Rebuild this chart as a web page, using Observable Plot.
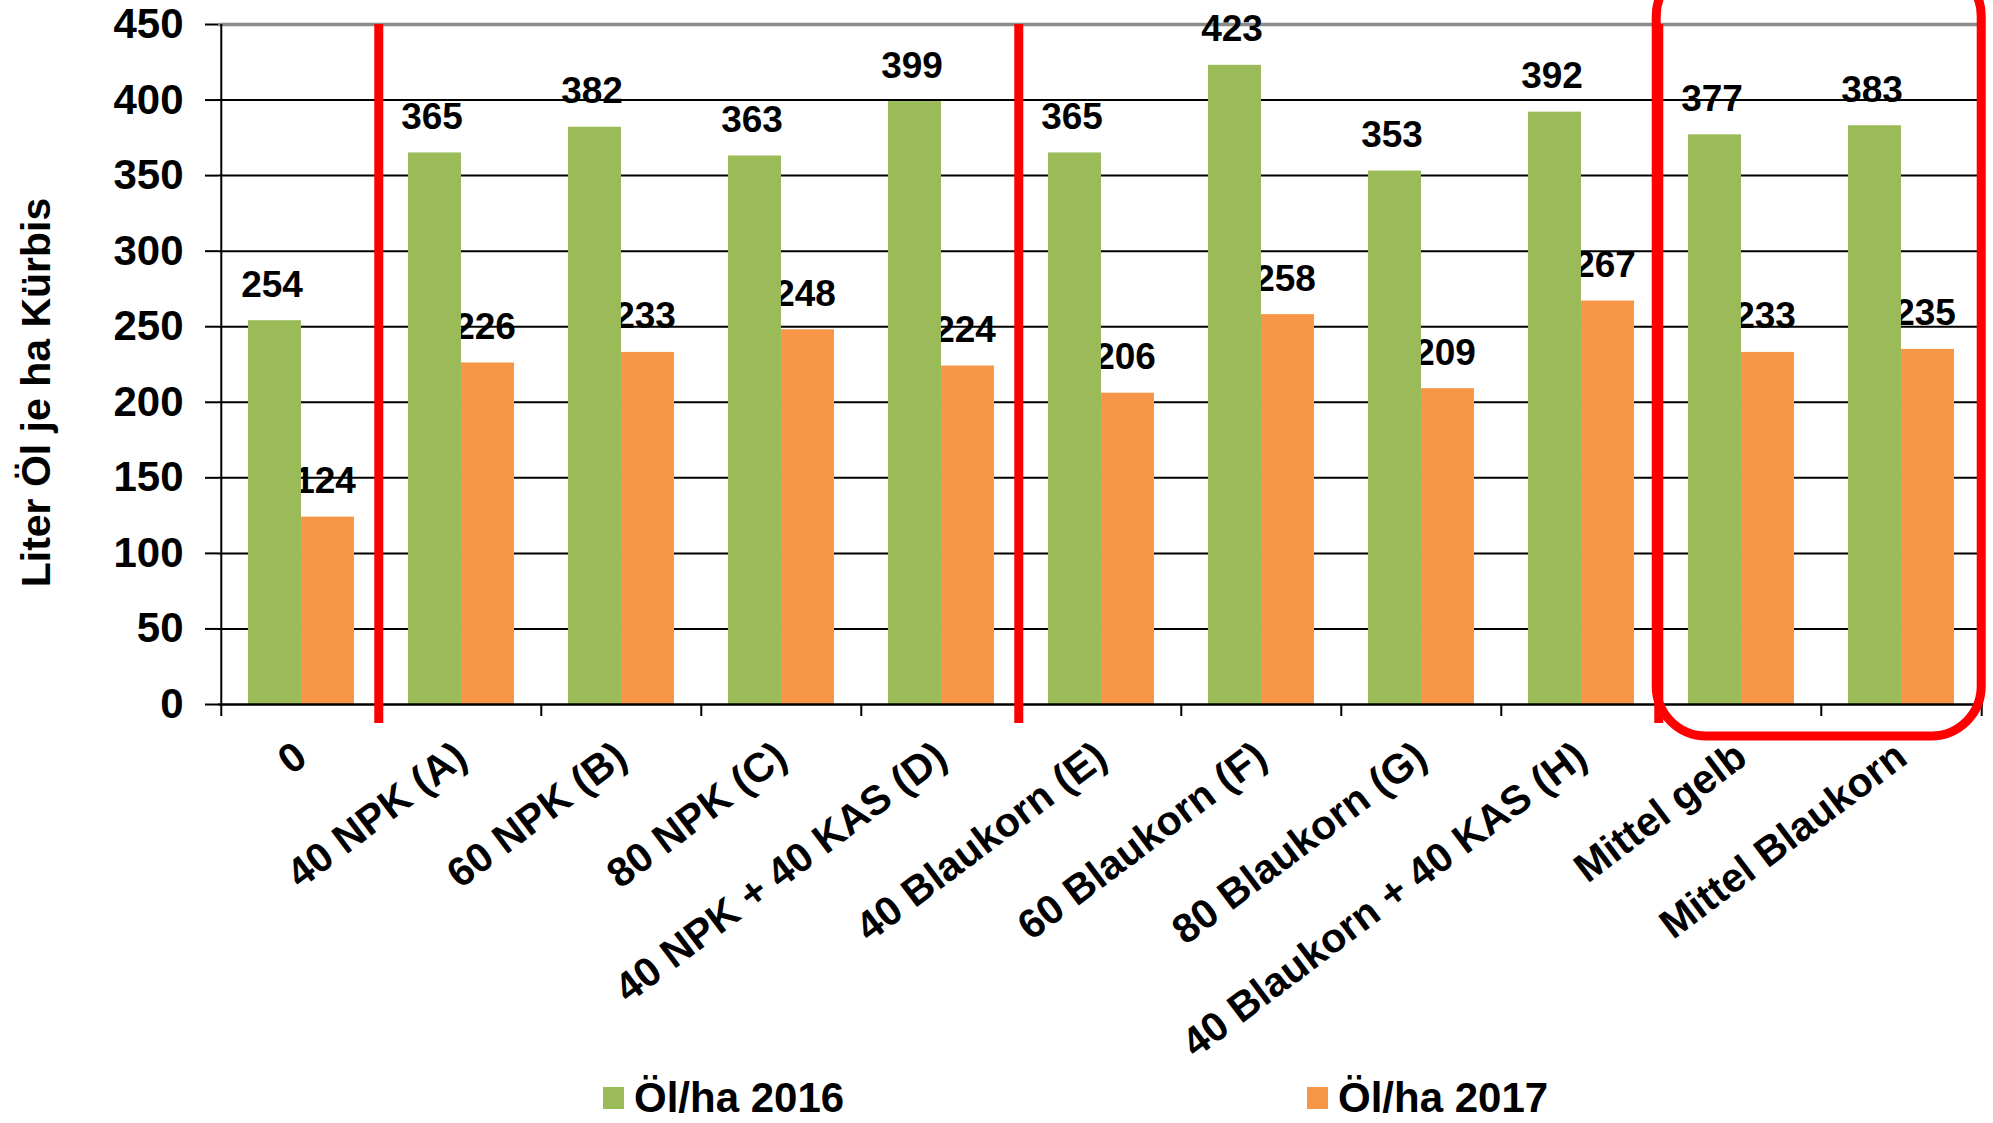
<!DOCTYPE html>
<html><head><meta charset="utf-8">
<script src="https://cdn.jsdelivr.net/npm/d3@7"></script>
<script src="https://cdn.jsdelivr.net/npm/@observablehq/plot@0.6"></script>
<style>
body{margin:0;background:#fff;font-family:"Liberation Sans",Arial,sans-serif;}
#wrap{position:relative;width:1993px;height:1123px;overflow:hidden;background:#fff;}
#legend{position:absolute;left:0;top:1080px;width:1993px;height:43px;}
.sw{position:absolute;top:7px;width:21px;height:22px;}
.lt{position:absolute;top:1px;font-size:42px;line-height:34px;font-weight:bold;color:#000;white-space:nowrap;}
</style></head><body>
<div id="wrap"><div id="chart"></div><div id="legend"></div></div>
<script>
// ---- data ----
const categories = ["0","40 NPK (A)","60 NPK (B)","80 NPK (C)","40 NPK + 40 KAS (D)","40 Blaukorn (E)","60 Blaukorn (F)","80 Blaukorn (G)","40 Blaukorn + 40 KAS (H)","Mittel gelb","Mittel Blaukorn"];
const oil2016 = [254,365,382,363,399,365,423,353,392,377,383];
const oil2017 = [124,226,233,248,224,206,258,209,267,233,235];
const seriesNames = ["Öl/ha 2016","Öl/ha 2017"];
const seriesColors = ["#9BBB59","#F79646"];
const yTicks = [0,50,100,150,200,250,300,350,400,450];
const yTitle = "Liter Öl je ha Kürbis";
const separatorsBefore = ["40 NPK (A)","40 Blaukorn (E)","Mittel gelb"];
const highlightGroup = ["Mittel gelb","Mittel Blaukorn"];

// ---- layout ----
const W = 1993, H = 1080, mL = 218, mR = 10, mT = 24, mB = 376;
const pInner = 0.339, pOuter = 0.17;
const n = categories.length;
const step = (W - mL - mR) / (n - pInner + 2 * pOuter);
const bw = step * (1 - pInner);
const red = "#FF0000";
const font = "'Liberation Sans', Arial, sans-serif";

const rows2016 = categories.map((c, i) => ({cat: c, value: oil2016[i]}));
const rows2017 = categories.map((c, i) => ({cat: c, value: oil2017[i]}));
const yMax = yTicks[yTicks.length - 1];

const chart = Plot.plot({
  width: W, height: H,
  marginLeft: mL, marginRight: mR, marginTop: mT, marginBottom: mB,
  style: {fontFamily: font, background: "white", color: "#000"},
  x: {type: "band", domain: categories, paddingInner: pInner, paddingOuter: pOuter, axis: null},
  y: {domain: [0, yMax]},
  marks: [
    Plot.ruleY(yTicks.filter(t => t > 0 && t < yMax), {y: d => d, stroke: "#000", strokeWidth: 2, insetRight: 5}),
    Plot.ruleY([yMax], {y: d => d, stroke: "#8c8c8c", strokeWidth: 3.5, insetRight: 5}),
    Plot.text(rows2017, {x: "cat", y: "value", text: d => String(d.value), dx: bw / 4 - 3, dy: -24, lineAnchor: "bottom", fontSize: 37, fontWeight: "bold", fill: "#000"}),
    Plot.barY(rows2016, {x: "cat", y: "value", fill: seriesColors[0], insetRight: bw / 2}),
    Plot.barY(rows2017, {x: "cat", y: "value", fill: seriesColors[1], insetLeft: bw / 2}),
    Plot.text(rows2016, {x: "cat", y: "value", text: d => String(d.value), dx: -bw / 4 - 3, dy: -24, lineAnchor: "bottom", fontSize: 37, fontWeight: "bold", fill: "#000"}),
    Plot.ruleY([0], {y: d => d, stroke: "#000", strokeWidth: 2.5}),
    // y axis line
    Plot.ruleX([categories[0]], {x: d => d, dx: -step / 2, y1: yMax, y2: 0, insetBottom: -12, stroke: "#000", strokeWidth: 2}),
    // category boundary ticks
    Plot.ruleX(categories.slice(1), {x: d => d, dx: -step / 2, y1: 0, y2: 0, insetBottom: -12, stroke: "#000", strokeWidth: 2}),
    Plot.ruleX([categories[n - 1]], {x: d => d, dx: step / 2, y1: 0, y2: 0, insetBottom: -12, stroke: "#000", strokeWidth: 2}),
    // red separators
    Plot.ruleX(separatorsBefore, {x: d => d, dx: -step / 2 - 2.5, y1: yMax, y2: 0, insetBottom: -19, stroke: red, strokeWidth: 9}),
    // highlight rounded box
    Plot.barY([highlightGroup[0]], {x: d => d, y1: 0, y2: yMax, fill: "none", stroke: red, strokeWidth: 9, rx: 50, ry: 50,
      insetLeft: -(pOuter * step + 4.5), insetRight: -(step + pOuter * step - 0.5), insetTop: -58, insetBottom: -32}),
    // category labels
    Plot.text(categories, {x: d => d, frameAnchor: "bottom", dy: 47, rotate: -37, textAnchor: "end", lineAnchor: "middle", fontSize: 41, fontWeight: "bold", fill: "#000"}),
    Plot.axisY({ticks: yTicks, tickSize: 13, tickPadding: 22, fontSize: 42, fontWeight: "bold", label: null, strokeWidth: 2, stroke: "#000", fill: "#000"}),
    Plot.text([yTitle], {frameAnchor: "left", dx: -182, dy: 28, rotate: -90, textAnchor: "middle", lineAnchor: "middle", fontSize: 41, fontWeight: "bold", fill: "#000"})
  ]
});
document.getElementById("chart").appendChild(chart);

// legend
const legend = document.getElementById("legend");
const legendLefts = [603, 1307];
seriesNames.forEach((name, i) => {
  const sw = document.createElement("div");
  sw.className = "sw"; sw.style.left = legendLefts[i] + "px"; sw.style.background = seriesColors[i];
  const t = document.createElement("div");
  t.className = "lt"; t.style.left = (legendLefts[i] + 31) + "px"; t.textContent = name;
  legend.appendChild(sw); legend.appendChild(t);
});
</script>
</body></html>
